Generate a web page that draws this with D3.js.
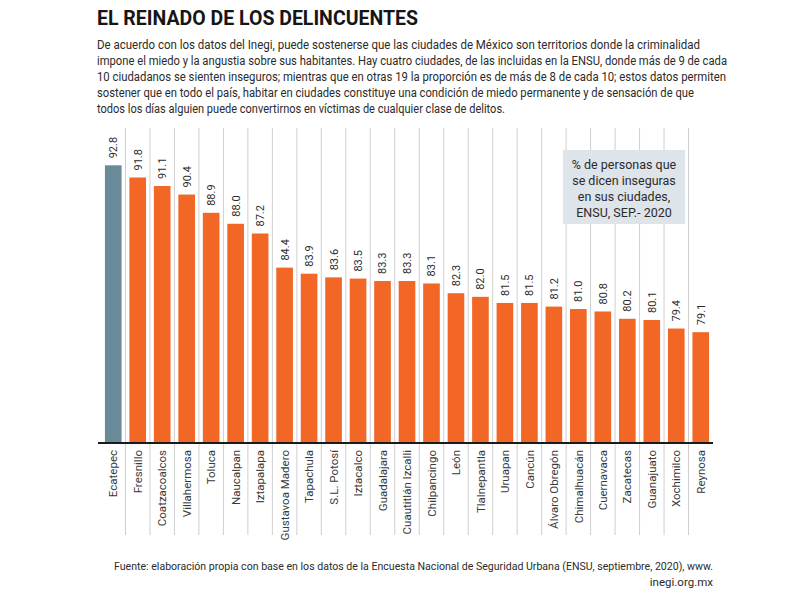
<!DOCTYPE html>
<html>
  <head>
    <meta charset="utf-8">
    <title>El reinado de los delincuentes</title>
    <script src="https://d3js.org/d3.v7.min.js"></script>
    <style>
      body { margin: 0; background: #fff; }
      text { font-family: Roboto, "Noto Sans", sans-serif; fill: #2b2b2b; }
    </style>
  </head>
  <body>
    <script>

      // data
      var cities = ["Ecatepec", "Fresnillo", "Coatzacoalcos", "Villahermosa", "Toluca",
        "Naucalpan", "Iztapalapa", "Gustavoa Madero", "Tapachula", "S.L. Potosí",
        "Iztacalco", "Guadalajara", "Cuautitlán Izcalli", "Chilpancingo", "León",
        "Tlalnepantla", "Uruapan", "Cancún", "Álvaro Obregón", "Chimalhuacán",
        "Cuernavaca", "Zacatecas", "Guanajuato", "Xochimilco", "Reynosa"]
      var values = [92.8, 91.8, 91.1, 90.4, 88.9, 88.0, 87.2, 84.4, 83.9, 83.6,
        83.5, 83.3, 83.3, 83.1, 82.3, 82.0, 81.5, 81.5, 81.2, 81.0,
        80.8, 80.2, 80.1, 79.4, 79.1]
      var highlighted = ["Ecatepec"]

      var title = "EL REINADO DE LOS DELINCUENTES"
      var intro = [
        "De acuerdo con los datos del Inegi, puede sostenerse que las ciudades de México son territorios donde la criminalidad",
        "impone el miedo y la angustia sobre sus habitantes. Hay cuatro ciudades, de las incluidas en la ENSU, donde más de 9 de cada",
        "10 ciudadanos se sienten inseguros; mientras que en otras 19 la proporción es de más de 8 de cada 10; estos datos permiten",
        "sostener que en todo el país, habitar en ciudades constituye una condición de miedo permanente y de sensación de que",
        "todos los días alguien puede convertirnos en víctimas de cualquier clase de delitos."
      ]
      var legendLines = ["% de personas que", "se dicen inseguras", "en sus ciudades,", "ENSU, SEP.- 2020"]
      var source = [
        "Fuente: elaboración propia con base en los datos de la Encuesta Nacional de Seguridad Urbana (ENSU, septiembre, 2020), www.",
        "inegi.org.mx"
      ]

      // sizes
      var w = 799
      var h = 599
      var left = 101
      var right = 713
      var base = 443
      var top_y = 130

      var svg = d3.select("body")
        .append("svg")
        .attr("width", w)
        .attr("height", h)

      var x_scale = d3.scaleBand()
        .domain(cities)
        .range([left, right])
        .paddingInner(0.32)
        .paddingOuter(0.16)

      var y_scale = d3.scaleLinear()
        .domain([70, 95.7])
        .range([base, top_y])

      header(svg)
      grid(svg, x_scale)
      bars(svg, x_scale, y_scale)
      legend(svg)
      footer(svg)

      function header(svg) {
        // title
        svg.append("text")
          .attr("x", 97)
          .attr("y", 25)
          .attr("font-size", 20)
          .attr("font-weight", "bold")
          .attr("textLength", 321)
          .attr("lengthAdjust", "spacingAndGlyphs")
          .style("fill", "#161616")
          .text(title)

        // intro text, line ends
        var ends = [700, 727, 726, 694, 505]
        svg.selectAll(".intro")
          .data(intro)
          .enter()
          .append("text")
          .attr("class", "intro")
          .attr("x", 97)
          .attr("y", function(d, i) { return 49 + i * 16 })
          .attr("font-size", 12)
          .attr("textLength", function(d, i) { return ends[i] - 97 })
          .attr("lengthAdjust", "spacingAndGlyphs")
          .text(function(d) { return d })
      }

      function grid(svg, x_scale) {
        // thin separators between the bars
        var half = x_scale.step() * x_scale.paddingInner() / 2
        svg.selectAll(".sep")
          .data(cities.slice(1))
          .enter()
          .append("line")
          .attr("class", "sep")
          .attr("x1", function(d) { return x_scale(d) - half })
          .attr("x2", function(d) { return x_scale(d) - half })
          .attr("y1", top_y - 2)
          .attr("y2", 535)
          .attr("stroke", "#cfcfcf")
          .attr("stroke-width", 1)
      }

      function bars(svg, x_scale, y_scale) {
        svg.selectAll(".bar")
          .data(values)
          .enter()
          .append("rect")
          .attr("class", "bar")
          .attr("x", function(d, i) { return x_scale(cities[i]) })
          .attr("y", function(d) { return y_scale(d) })
          .attr("width", x_scale.bandwidth())
          .attr("height", function(d) { return base - y_scale(d) })
          .attr("fill", function(d, i) {
            return highlighted.includes(cities[i]) ? "#6a8999" : "#f26726"
          })

        // value labels, rotated
        svg.selectAll(".val")
          .data(values)
          .enter()
          .append("text")
          .attr("class", "val")
          .attr("transform", function(d, i) {
            var cx = x_scale(cities[i]) + x_scale.bandwidth() / 2
            return "translate(" + cx + "," + (y_scale(d) - 7) + ") rotate(-90)"
          })
          .attr("dy", "0.36em")
          .attr("font-size", 11)
          .text(function(d) { return d.toFixed(1) })

        // baseline
        var x_axis = d3.axisBottom(x_scale).tickSize(0).tickFormat("")
        var ax = svg.append("g")
          .attr("transform", "translate(0," + base + ")")
          .call(x_axis)
        ax.select(".domain")
          .attr("d", "M" + (left - 3) + ",0H" + right)
          .attr("stroke", "#1a1a1a")
          .attr("stroke-width", 2)

        // city names, rotated, reading upwards
        svg.selectAll(".city")
          .data(cities)
          .enter()
          .append("text")
          .attr("class", "city")
          .attr("transform", function(d) {
            var cx = x_scale(d) + x_scale.bandwidth() / 2
            return "translate(" + cx + "," + (base + 7) + ") rotate(-90)"
          })
          .attr("dy", "0.36em")
          .attr("text-anchor", "end")
          .attr("font-size", 11.5)
          .style("fill", "#3a3a3a")
          .text(function(d) { return d })
      }

      function legend(svg) {
        svg.append("rect")
          .attr("x", 563)
          .attr("y", 150)
          .attr("width", 122)
          .attr("height", 74)
          .attr("fill", "#dde4ea")

        svg.selectAll(".leg")
          .data(legendLines)
          .enter()
          .append("text")
          .attr("class", "leg")
          .attr("x", 624)
          .attr("y", function(d, i) { return 169 + i * 16 })
          .attr("text-anchor", "middle")
          .attr("font-size", 12.5)
          .text(function(d) { return d })
      }

      function footer(svg) {
        svg.selectAll(".src")
          .data(source)
          .enter()
          .append("text")
          .attr("class", "src")
          .attr("x", 713)
          .attr("y", function(d, i) { return 570 + i * 16 })
          .attr("text-anchor", "end")
          .attr("font-size", 11.5)
          .attr("textLength", function(d, i) { return i == 0 ? 599 : null })
          .attr("lengthAdjust", "spacingAndGlyphs")
          .text(function(d) { return d })
      }

    </script>
  </body>
</html>
